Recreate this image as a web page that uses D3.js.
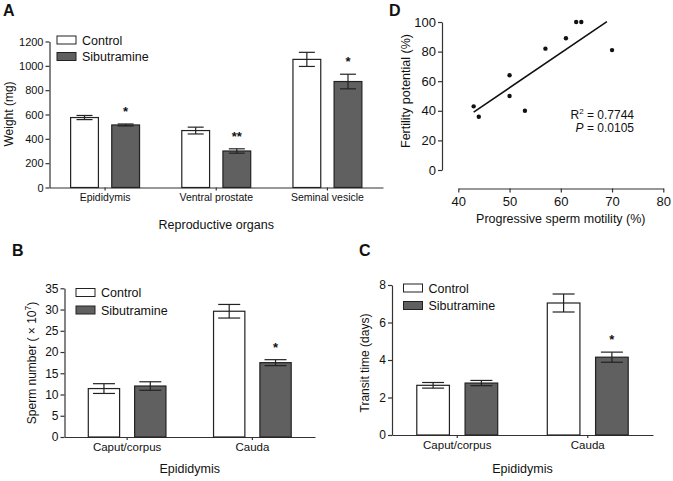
<!DOCTYPE html>
<html><head><meta charset="utf-8">
<script src="https://cdn.jsdelivr.net/npm/d3@7"></script>
<style>
html,body{margin:0;padding:0;background:#fff;}
svg{display:block;font-family:"Liberation Sans",Arial,sans-serif;}
</style></head>
<body><svg id="chart" width="673" height="481"></svg>
<script>
// ---------- DATA ----------
const seriesNames = ["Control", "Sibutramine"];

const organLabels = ["Epididymis", "Ventral prostate", "Seminal vesicle"];
const organControl = [575, 468, 1053];
const organControlErr = [17, 28, 58];
const organSib = [514, 300, 871];
const organSibErr = [8, 18, 60];
const organSig = ["*", "**", "*"];
const organTicks = [0, 200, 400, 600, 800, 1000, 1200];

const epiLabels = ["Caput/corpus", "Cauda"];
const spermControl = [11.4, 29.6];
const spermControlErr = [1.15, 1.6];
const spermSib = [12.0, 17.5];
const spermSibErr = [1.0, 0.7];
const spermSig = ["", "*"];
const spermTicks = [0, 5, 10, 15, 20, 25, 30, 35];

const transitControl = [2.65, 7.04];
const transitControlErr = [0.15, 0.48];
const transitSib = [2.77, 4.15];
const transitSibErr = [0.14, 0.27];
const transitSig = ["", "*"];
const transitTicks = [0, 2, 4, 6, 8];

const motility = [43, 44, 50, 50, 53, 57, 61, 63, 64, 70];
const fertility = [43, 36, 64, 50, 40, 82, 89, 100, 100, 81];
const fitX = [43, 69];
const fitY = [39.1, 100.2];
const motilityTicks = [40, 50, 60, 70, 80];
const fertilityTicks = [0, 20, 40, 60, 80, 100];

// ---------- DRAW ----------
const svg = d3.select("#chart");
const AX = "#333";
const DARK = "#606060";
const FONT = "Liberation Sans, Arial, sans-serif";

function barPanel(o) {
  const g = svg.append("g");
  const x = d3.scaleBand().domain(o.labels).range([o.x0, o.x1]).padding(0);
  const y = d3.scaleLinear().domain([0, o.ymax]).range([o.yb, o.yt]);
  const bw = x.bandwidth() * 0.25, gap = x.bandwidth() * 0.06;

  const ya = g.append("g").attr("transform", `translate(${o.x0},0)`)
    .call(d3.axisLeft(y).tickValues(o.ticks).tickFormat(d3.format("d"))
      .tickSize(4).tickPadding(2).tickSizeOuter(0));
  ya.select(".domain").attr("stroke", AX).attr("stroke-width", 1.2);
  ya.selectAll(".tick line").attr("stroke", AX).attr("stroke-width", 1.2);
  ya.selectAll(".tick text").attr("font-size", o.tickFs).attr("fill", "#111").attr("font-family", FONT);

  const xa = g.append("g").attr("transform", `translate(0,${o.yb})`)
    .call(d3.axisBottom(x).tickSize(3).tickPadding(3).tickSizeOuter(0));
  xa.select(".domain").attr("stroke", AX).attr("stroke-width", 1.2);
  xa.selectAll(".tick line").attr("stroke", AX).attr("stroke-width", 1.2);
  xa.selectAll(".tick text").attr("font-size", o.catFs).attr("fill", "#111").attr("font-family", FONT);

  const series = [
    {vals: o.control, errs: o.controlErr, fill: "#fff", off: -gap - bw},
    {vals: o.sib, errs: o.sibErr, fill: DARK, off: gap}
  ];
  series.forEach((s, si) => {
    o.labels.forEach((lab, i) => {
      const cx = x(lab) + x.bandwidth() / 2 + s.off;
      g.append("rect").attr("x", cx).attr("y", y(s.vals[i]))
        .attr("width", bw).attr("height", y(0) - y(s.vals[i]))
        .attr("fill", s.fill).attr("stroke", "#222").attr("stroke-width", 1.2);
      const mx = cx + bw / 2;
      const top = y(s.vals[i] + s.errs[i]), bot = y(s.vals[i] - s.errs[i]);
      g.append("line").attr("x1", mx).attr("x2", mx).attr("y1", top).attr("y2", bot)
        .attr("stroke", "#222").attr("stroke-width", 1.2);
      [top, bot].forEach(yy => g.append("line").attr("x1", mx - o.cap).attr("x2", mx + o.cap)
        .attr("y1", yy).attr("y2", yy).attr("stroke", "#222").attr("stroke-width", 1.2));
      if (si === 1 && o.sig[i]) {
        g.append("text").attr("x", mx).attr("y", top - 8)
          .attr("text-anchor", "middle").attr("font-size", 13).attr("font-weight", "bold")
          .attr("fill", "#111").text(o.sig[i]);
      }
    });
  });

  seriesNames.forEach((nm, i) => {
    const ly = o.legY + i * o.legDy;
    g.append("rect").attr("x", o.legX).attr("y", ly - 4).attr("width", o.legW).attr("height", 8)
      .attr("fill", i ? DARK : "#fff").attr("stroke", "#222").attr("stroke-width", 1);
    g.append("text").attr("x", o.legX + o.legW + 6).attr("y", ly + 4.5)
      .attr("font-size", 12.5).attr("fill", "#111").text(nm);
  });

  const yt = g.append("text").attr("transform", `translate(${o.ytX},${o.ytY}) rotate(-90)`)
    .attr("text-anchor", "middle").attr("font-size", 12).attr("fill", "#111");
  o.ytitle(yt);
  g.append("text").attr("x", (o.x0 + o.x1) / 2).attr("y", o.xtY).attr("text-anchor", "middle")
    .attr("font-size", 12.5).attr("fill", "#111").text(o.xtitle);

  g.append("text").attr("x", o.letX).attr("y", o.letY).attr("font-size", 16)
    .attr("font-weight", "bold").attr("fill", "#111").text(o.letter);
}

barPanel({
  labels: organLabels, control: organControl, controlErr: organControlErr,
  sib: organSib, sibErr: organSibErr, sig: organSig, ticks: organTicks, ymax: 1200,
  x0: 49.5, x1: 383, yb: 187.5, yt: 41.5, cap: 8, tickFs: 11, catFs: 10.5,
  legX: 57, legY: 40, legDy: 16.5, legW: 19,
  ytX: 13, ytY: 114, ytitle: t => t.text("Weight (mg)"),
  xtitle: "Reproductive organs", xtY: 229, letter: "A", letX: 3, letY: 16
});

barPanel({
  labels: epiLabels, control: spermControl, controlErr: spermControlErr,
  sib: spermSib, sibErr: spermSibErr, sig: spermSig, ticks: spermTicks, ymax: 35,
  x0: 64.5, x1: 315, yb: 437, yt: 288.3, cap: 11, tickFs: 12, catFs: 11.5,
  legX: 76, legY: 292.5, legDy: 17.5, legW: 19,
  ytX: 36, ytY: 363, ytitle: t => {
    t.append("tspan").text("Sperm number ( \u00d7 10");
    t.append("tspan").attr("dy", -5).attr("font-size", 8.5).text("7");
    t.append("tspan").attr("dy", 5).text(")");
  },
  xtitle: "Epididymis", xtY: 473, letter: "B", letX: 12, letY: 256
});

barPanel({
  labels: epiLabels, control: transitControl, controlErr: transitControlErr,
  sib: transitSib, sibErr: transitSibErr, sig: transitSig, ticks: transitTicks, ymax: 8,
  x0: 392, x1: 653, yb: 435, yt: 285, cap: 11, tickFs: 12, catFs: 11.5,
  legX: 403.5, legY: 288, legDy: 17.5, legW: 19,
  ytX: 369, ytY: 363, ytitle: t => t.text("Transit time (days)"),
  xtitle: "Epididymis", xtY: 473, letter: "C", letX: 359, letY: 256
});

// ---------- Panel D scatter ----------
(function () {
  const g = svg.append("g");
  const x = d3.scaleLinear().domain([40, 80]).range([458.3, 663.3]);
  const y = d3.scaleLinear().domain([0, 100]).range([170, 22]);
  const yAxisX = 442, xAxisY = 188.5;

  const ya = g.append("g").attr("transform", `translate(${yAxisX},0)`)
    .call(d3.axisLeft(y).tickValues(fertilityTicks).tickSize(4).tickPadding(2).tickSizeOuter(0));
  ya.select(".domain").attr("stroke", AX).attr("stroke-width", 1.2);
  ya.selectAll(".tick line").attr("stroke", AX).attr("stroke-width", 1.2);
  ya.selectAll(".tick text").attr("font-size", 13).attr("fill", "#111").attr("font-family", FONT);

  const xa = g.append("g").attr("transform", `translate(0,${xAxisY})`)
    .call(d3.axisBottom(x).tickValues(motilityTicks).tickSize(4).tickPadding(4).tickSizeOuter(0));
  xa.select(".domain").attr("stroke", AX).attr("stroke-width", 1.2);
  xa.selectAll(".tick line").attr("stroke", AX).attr("stroke-width", 1.2);
  xa.selectAll(".tick text").attr("font-size", 13).attr("fill", "#111").attr("font-family", FONT);

  g.append("line").attr("x1", x(fitX[0])).attr("y1", y(fitY[0]))
    .attr("x2", x(fitX[1])).attr("y2", y(fitY[1]))
    .attr("stroke", "#111").attr("stroke-width", 1.6);

  g.selectAll("circle.pt").data(motility).enter().append("circle")
    .attr("cx", d => x(d)).attr("cy", (d, i) => y(fertility[i])).attr("r", 2.2).attr("fill", "#111");

  const r2 = g.append("text").attr("x", 634).attr("y", 118.5).attr("text-anchor", "end")
    .attr("font-size", 12).attr("fill", "#111");
  r2.append("tspan").text("R");
  r2.append("tspan").attr("dy", -4.5).attr("font-size", 8).text("2");
  r2.append("tspan").attr("dy", 4.5).text(" = 0.7744");
  const p = g.append("text").attr("x", 634).attr("y", 132).attr("text-anchor", "end")
    .attr("font-size", 12).attr("fill", "#111");
  p.append("tspan").attr("font-style", "italic").text("P");
  p.append("tspan").text(" = 0.0105");

  g.append("text").attr("transform", "translate(410,91) rotate(-90)").attr("text-anchor", "middle")
    .attr("font-size", 12.5).attr("fill", "#111").text("Fertility potential (%)");
  g.append("text").attr("x", 560.8).attr("y", 223).attr("text-anchor", "middle")
    .attr("font-size", 12.5).attr("fill", "#111").text("Progressive sperm motility (%)");
  g.append("text").attr("x", 389).attr("y", 16).attr("font-size", 16)
    .attr("font-weight", "bold").attr("fill", "#111").text("D");
})();
</script></body></html>
